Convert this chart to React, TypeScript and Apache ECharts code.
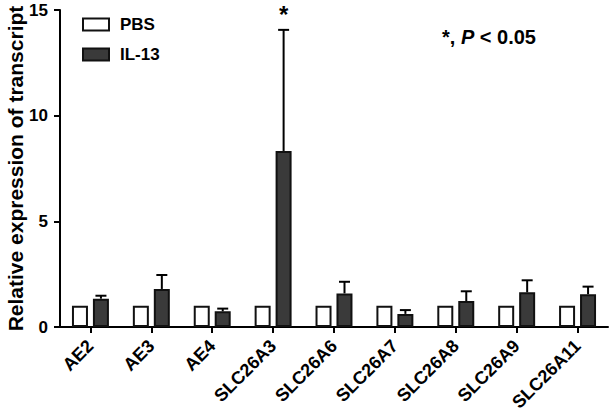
import React, { useEffect, useRef } from "react";
import * as echarts from "echarts";

const categories = ["AE2", "AE3", "AE4", "SLC26A3", "SLC26A6", "SLC26A7", "SLC26A8", "SLC26A9", "SLC26A11"];
const pbsValues = [1, 1, 1, 1, 1, 1, 1, 1, 1];
const il13Values = [1.34, 1.8, 0.74, 8.33, 1.59, 0.62, 1.23, 1.64, 1.55];
const il13Errors = [0.14, 0.66, 0.13, 5.73, 0.55, 0.18, 0.46, 0.57, 0.36];
const significance = ["", "", "", "*", "", "", "", "", ""];
const yTicks = [0, 5, 10, 15];

const FONT = "'Liberation Sans', Arial, Helvetica, sans-serif";
const BAR_OFFSET = 10.5;

export default function App() {
  const ref = useRef<HTMLDivElement>(null);
  useEffect(() => {
    if (!ref.current) return;
    const chart = echarts.init(ref.current, undefined, { renderer: "svg" });
    const errData = categories.map((_, i) => [i, il13Values[i], il13Errors[i], significance[i]]);
    chart.setOption({
      animation: false,
      backgroundColor: "#ffffff",
      textStyle: { fontFamily: FONT },
      grid: { left: 60, right: 7, top: 10, bottom: 87, containLabel: false, outerBoundsMode: "none" },
      legend: {
        orient: "vertical",
        left: 77,
        top: 11,
        itemWidth: 26,
        itemHeight: 12,
        itemGap: 13,
        icon: "rect",
        data: ["PBS", "IL-13"],
        textStyle: { fontFamily: FONT, fontWeight: "bold", fontSize: 17, color: "#000", padding: [0, 0, 0, 6] },
      },
      xAxis: {
        type: "category",
        data: categories,
        boundaryGap: true,
        axisLine: { show: true, lineStyle: { color: "#000", width: 2 } },
        axisTick: { show: true, alignWithLabel: true, length: 6, lineStyle: { color: "#000", width: 2 } },
        axisLabel: {
          rotate: 45,
          margin: 16,
          fontFamily: FONT,
          fontWeight: "bold",
          fontSize: 18,
          color: "#000",
        },
      },
      yAxis: {
        type: "value",
        min: yTicks[0],
        max: yTicks[yTicks.length - 1],
        interval: 5,
        name: "Relative expression of transcript",
        nameLocation: "middle",
        nameGap: 34,
        nameMoveOverlap: false,
        nameTextStyle: { fontFamily: FONT, fontWeight: "bold", fontSize: 21, color: "#000" },
        axisLine: { show: true, lineStyle: { color: "#000", width: 2 } },
        axisTick: { show: true, length: 6, lineStyle: { color: "#000", width: 2 } },
        splitLine: { show: false },
        axisLabel: { margin: 12, fontFamily: FONT, fontWeight: "bold", fontSize: 17, color: "#000" },
      },
      graphic: [
        {
          type: "text",
          left: 442,
          top: 27,
          style: {
            text: "{n|*, }{i|P}{n| < 0.05}",
            rich: {
              n: { fontFamily: FONT, fontWeight: "bold", fontSize: 20, fill: "#000" },
              i: { fontFamily: FONT, fontWeight: "bold", fontStyle: "italic", fontSize: 20, fill: "#000" },
            },
          },
        },
      ],
      series: [
        {
          name: "PBS",
          type: "bar",
          data: pbsValues,
          barWidth: 16,
          barGap: "31%",
          itemStyle: { color: "#ffffff", borderColor: "#111", borderWidth: 2 },
        },
        {
          name: "IL-13",
          type: "bar",
          data: il13Values,
          barWidth: 16,
          itemStyle: { color: "#3a3a3a", borderColor: "#111", borderWidth: 2 },
        },
        {
          name: "err",
          type: "custom",
          data: errData,
          z: 5,
          renderItem: (params: any, api: any) => {
            const idx = api.value(0);
            const mean = api.value(1);
            const err = api.value(2);
            const sig = errData[params.dataIndex][3] as string;
            const p0 = api.coord([idx, mean]);
            const p1 = api.coord([idx, mean + err]);
            const x = p0[0] + BAR_OFFSET;
            const children: any[] = [
              { type: "line", shape: { x1: x, y1: p0[1], x2: x, y2: p1[1] }, style: { stroke: "#000", lineWidth: 2 } },
              { type: "line", shape: { x1: x - 5.5, y1: p1[1], x2: x + 5.5, y2: p1[1] }, style: { stroke: "#000", lineWidth: 2 } },
            ];
            if (sig) {
              children.push({
                type: "text",
                x: x,
                y: p1[1] - 15,
                style: {
                  text: sig,
                  fontFamily: FONT,
                  fontWeight: "bold",
                  fontSize: 24,
                  fill: "#000",
                  align: "center",
                  verticalAlign: "middle",
                },
              });
            }
            return { type: "group", children };
          },
        },
      ],
    });
    return () => chart.dispose();
  }, []);
  return <div ref={ref} style={{ width: 615, height: 414, position: "absolute", left: 0, top: 0 }} />;
}
